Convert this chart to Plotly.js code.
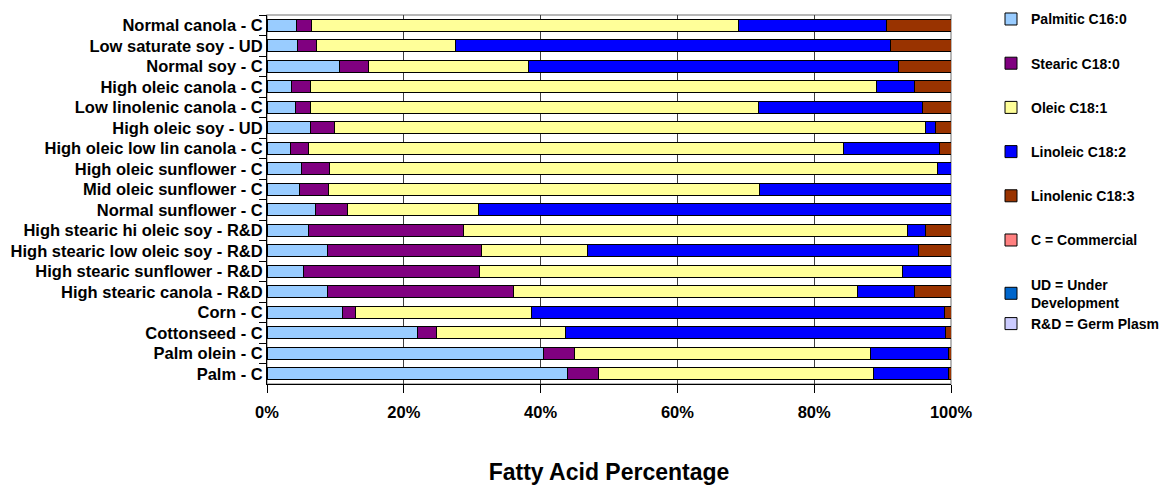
<!DOCTYPE html>
<html>
<head>
<meta charset="utf-8">
<script src="https://cdn.plot.ly/plotly-3.0.1.min.js"></script>
<style>html,body{margin:0;padding:0;background:#fff;}#chart{width:1167px;height:485px;}</style>
</head>
<body>
<div id="chart"></div>
<script>
const categories = [
  "Normal canola - C",
  "Low saturate soy - UD",
  "Normal soy - C",
  "High oleic canola - C",
  "Low linolenic canola - C",
  "High oleic soy - UD",
  "High oleic low lin canola - C",
  "High oleic sunflower - C",
  "Mid oleic sunflower - C",
  "Normal sunflower - C",
  "High stearic hi oleic soy - R&D",
  "High stearic low oleic soy - R&D",
  "High stearic sunflower - R&D",
  "High stearic canola - R&D",
  "Corn - C",
  "Cottonseed - C",
  "Palm olein - C",
  "Palm - C"
];
const palmitic  = [4.3, 4.4, 10.6, 3.6, 4.1, 6.4, 3.5, 5.0, 4.8, 7.1, 6.1, 8.8, 5.3, 8.9, 11.0, 22.0, 40.4, 43.9];
const stearic   = [2.2, 2.9, 4.2, 2.7, 2.2, 3.4, 2.6, 4.1, 4.2, 4.7, 22.6, 22.6, 25.8, 27.1, 2.0, 2.8, 4.6, 4.6];
const oleic     = [62.4, 20.3, 23.5, 82.8, 65.5, 86.4, 78.2, 88.9, 63.0, 19.1, 65.0, 15.4, 61.8, 50.3, 25.7, 18.9, 43.2, 40.1];
const linoleic  = [21.6, 63.5, 54.0, 5.5, 24.1, 1.6, 14.0, 2.0, 28.0, 69.1, 2.5, 48.4, 7.1, 8.3, 60.4, 55.5, 11.5, 11.0];
const linolenic = [9.6, 8.9, 7.7, 5.4, 4.1, 2.2, 1.7, 0, 0, 0, 3.8, 4.8, 0, 5.4, 0.9, 0.8, 0.3, 0.4];

const seriesNames = ["Palmitic C16:0", "Stearic C18:0", "Oleic C18:1", "Linoleic C18:2", "Linolenic C18:3"];
const seriesColors = ["#99CCFF", "#800080", "#FFFF99", "#0000FF", "#993300"];
const seriesValues = [palmitic, stearic, oleic, linoleic, linolenic];

const keyNames = ["C = Commercial", "UD = Under<br>Development", "R&D = Germ Plasm"];
const keyColors = ["#FF8080", "#0066CC", "#CCCCFF"];
const keyGroups = ["k1", "k2", "k2"];

const tickVals = [0, 20, 40, 60, 80, 100];
const tickText = ["0%", "20%", "40%", "60%", "80%", "100%"];

const traces = [];
seriesNames.forEach((name, i) => {
  traces.push({
    type: "bar", orientation: "h",
    name: name, x: seriesValues[i], y: categories,
    legendgroup: "s" + i,
    marker: {color: seriesColors[i], line: {color: "#000", width: 1}},
    hoverinfo: "x+y+name"
  });
});
keyNames.forEach((name, i) => {
  traces.push({
    type: "bar", orientation: "h",
    name: name, x: [null], y: [categories[0]],
    legendgroup: keyGroups[i],
    marker: {color: keyColors[i], line: {color: "#000", width: 1}},
    showlegend: true
  });
});

const layout = {
  width: 1167, height: 485,
  margin: {l: 267, r: 216, t: 15, b: 101, autoexpand: false},
  paper_bgcolor: "#fff", plot_bgcolor: "#fff",
  barmode: "stack",
  bargap: 0.43,
  font: {family: "Arial, 'Liberation Sans', sans-serif", color: "#000"},
  xaxis: {
    range: [0, 100],
    tickvals: tickVals, ticktext: tickText,
    ticks: "outside", ticklen: 8, tickcolor: "#000", tickwidth: 1,
    ticklabelstandoff: 5,
    showgrid: true, gridcolor: "#404040", gridwidth: 1,
    showline: true, linecolor: "#000", linewidth: 1,
    zeroline: false,
    tickfont: {size: 16.5, weight: "bold", color: "#000"},
    title: {text: "Fatty Acid Percentage", font: {size: 23, weight: "bold", color: "#000"}, standoff: 45},
    automargin: false,
    fixedrange: true
  },
  yaxis: {
    type: "category",
    categoryorder: "array", categoryarray: categories,
    autorange: "reversed",
    ticks: "outside", tickson: "boundaries", ticklen: 7, tickcolor: "#000",
    showline: true, linecolor: "#000", linewidth: 1,
    showgrid: false,
    tickfont: {size: 16.5, weight: "bold", color: "#000"},
    automargin: false,
    fixedrange: true
  },
  shapes: [{
    type: "rect", xref: "paper", yref: "paper", x0: 0, x1: 1, y0: 0, y1: 1,
    line: {color: "#A0A0A0", width: 1.5}, layer: "below"
  }],
  legend: {
    x: 1.0585, xanchor: "left",
    yref: "container", y: 0.993, yanchor: "top",
    maxheight: 1,
    traceorder: "grouped", tracegroupgap: 23,
    font: {size: 14, weight: "bold", color: "#000"},
    bgcolor: "rgba(0,0,0,0)", borderwidth: 0
  },
  showlegend: true
};

Plotly.newPlot("chart", traces, layout, {displayModeBar: false, staticPlot: true});
</script>
</body>
</html>
